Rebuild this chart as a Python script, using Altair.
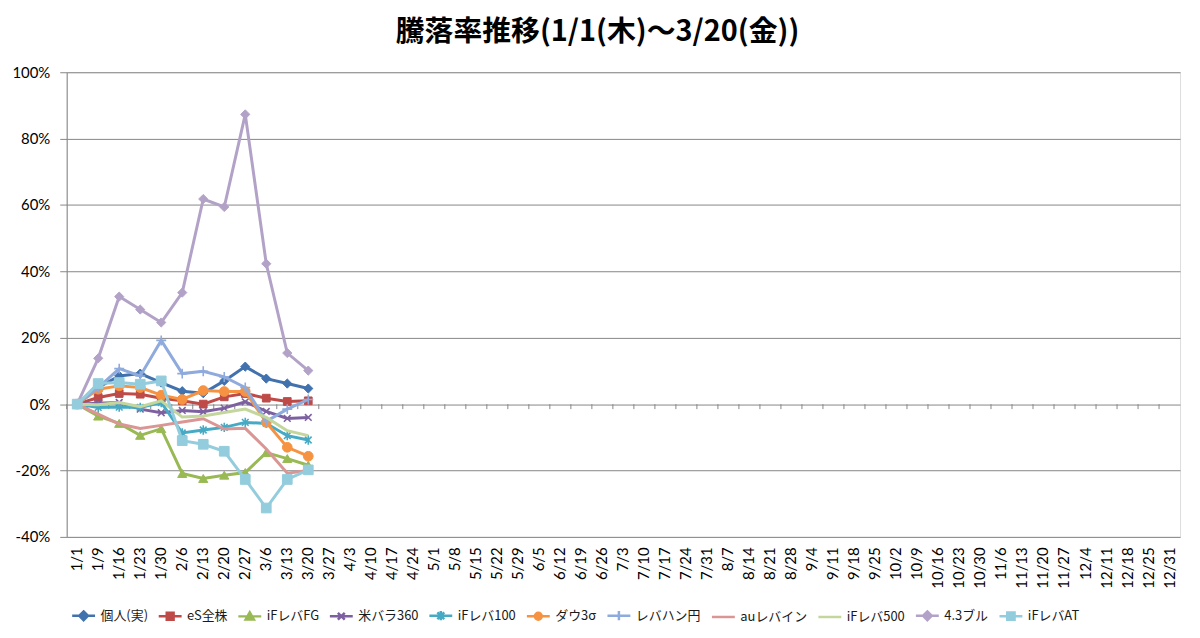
import altair as alt
import pandas as pd

# ---- data ----
categories = ["1/1", "1/9", "1/16", "1/23", "1/30", "2/6", "2/13", "2/20", "2/27", "3/6",
              "3/13", "3/20", "3/27", "4/3", "4/10", "4/17", "4/24", "5/1", "5/8", "5/15",
              "5/22", "5/29", "6/5", "6/12", "6/19", "6/26", "7/3", "7/10", "7/17", "7/24",
              "7/31", "8/7", "8/14", "8/21", "8/28", "9/4", "9/11", "9/18", "9/25", "10/2",
              "10/9", "10/16", "10/23", "10/30", "11/6", "11/13", "11/20", "11/27", "12/4",
              "12/11", "12/18", "12/25", "12/31"]
observed = categories[:12]

series_names = ["個人(実)", "eS全株", "iFレバFG", "米バラ360", "iFレバ100", "ダウ3σ",
                "レバハン円", "auレバイン", "iFレバ500", "4.3ブル", "iFレバAT"]

kojin   = [0, 5.0, 8.5, 9.2, 6.5, 3.9, 3.3, 7.0, 11.3, 7.7, 6.2, 4.7]
es_all  = [0, 2.0, 3.2, 3.0, 1.8, 1.0, 0.0, 2.2, 3.2, 1.8, 0.8, 1.0]
ifl_fg  = [0, -3.6, -5.8, -9.4, -7.4, -20.9, -22.4, -21.4, -20.6, -14.6, -16.4, -18.4]
bei360  = [0, 0.3, 0.5, -1.5, -2.6, -1.9, -2.3, -1.2, 0.7, -2.2, -4.3, -4.0]
ifl100  = [0, -1.0, -0.9, -1.0, 0.5, -8.7, -7.8, -7.0, -5.5, -5.8, -9.5, -10.8]
dow3s   = [0, 4.5, 5.5, 5.0, 2.7, 1.4, 4.1, 3.8, 3.8, -5.5, -13.0, -15.7]
rebahan = [0, 5.0, 10.7, 8.5, 19.2, 9.2, 9.9, 8.2, 5.0, -5.2, -1.5, 1.4]
aurebain = [0, -3.0, -6.0, -7.3, -6.4, -5.4, -4.4, -7.5, -7.3, -13.5, -20.8, -20.0]
ifl500  = [0, -0.2, 0.5, -0.8, 1.0, -3.9, -3.6, -2.5, -1.5, -4.0, -8.0, -9.5]
bull43  = [0, 13.8, 32.4, 28.5, 24.6, 33.6, 61.8, 59.4, 87.3, 42.3, 15.4, 10.1]
ifl_at  = [0, 6.2, 6.5, 6.0, 7.0, -11.0, -12.1, -14.2, -22.7, -31.3, -22.7, -19.8]

series_values = [kojin, es_all, ifl_fg, bei360, ifl100, dow3s, rebahan, aurebain, ifl500, bull43, ifl_at]

y_ticks = [-40, -20, 0, 20, 40, 60, 80, 100]

# ---- styles ----
colors = ["#4172AE", "#BE4B48", "#98B954", "#7D60A0", "#46AAC5", "#F59342",
          "#8FAADC", "#D99694", "#C3D69B", "#B3A2C7", "#93CDDD"]

X_PATH = "M-1,-1L1,1M-1,1L1,-1"
AST_PATH = "M-1,-1L1,1M-1,1L1,-1M0,-1.4V1.4"
PLUS_PATH = "M-1,0H1M0,-1V1"
# (shape, filled, size)
markers = [("diamond", True, 85), ("square", True, 60), ("triangle-up", True, 85),
           (X_PATH, False, 45), (AST_PATH, False, 45), ("circle", True, 95),
           (PLUS_PATH, False, 100), None, None, ("diamond", True, 85), ("square", True, 95)]

L = "M-1,0H1"
legend_paths = [
    L + "M0,-0.38L0.38,0L0,0.38L-0.38,0Z",
    L + "M-0.3,-0.3H0.3V0.3H-0.3Z",
    L + "M0,-0.36L0.36,0.28H-0.36Z",
    L + "M-0.3,-0.3L0.3,0.3M-0.3,0.3L0.3,-0.3",
    L + "M-0.3,-0.3L0.3,0.3M-0.3,0.3L0.3,-0.3M0,-0.4V0.4",
    L + "M0.3,0A0.3,0.3,0,1,1,-0.3,0A0.3,0.3,0,1,1,0.3,0Z",
    L + "M0,-0.4V0.4",
    L,
    L,
    L + "M0,-0.38L0.38,0L0,0.38L-0.38,0Z",
    L + "M-0.32,-0.32H0.32V0.32H-0.32Z",
]

GRID = "#868686"

x_enc = alt.X("date:O", sort=categories,
              scale=alt.Scale(type="band", domain=categories, paddingInner=0, paddingOuter=0),
              axis=alt.Axis(labelAngle=270, domain=False, ticks=False, grid=False,
                            labelPadding=10, labelFont="Lato", labelFontSize=15,
                            labelColor="#000000", labelOverlap=False, title=None))
y_enc = alt.Y("value:Q", scale=alt.Scale(domain=[-40, 100], nice=False, zero=False),
              axis=alt.Axis(values=y_ticks, labelExpr="datum.value + '%'", grid=True,
                            gridColor=GRID, domainColor=GRID, tickColor=GRID, tickSize=7,
                            labelPadding=10, labelFont="Lato", labelFontSize=15,
                            labelColor="#000000", title=None))

layers = []

# small tick marks on the 0% category axis
tick_df = pd.DataFrame({"date": categories})
layers.append(
    alt.Chart(tick_df).mark_rule(color=GRID, strokeWidth=1).encode(
        x=alt.X("date:O", sort=categories, bandPosition=0,
                scale=alt.Scale(type="band", domain=categories, paddingInner=0, paddingOuter=0)),
        y=alt.datum(0), y2=alt.datum(-1.5))
)

for name, vals, col, mk in zip(series_names, series_values, colors, markers):
    df = pd.DataFrame({"date": observed, "value": vals, "series": name})
    base = alt.Chart(df)
    layers.append(base.mark_line(color=col, strokeWidth=3).encode(x=x_enc, y=y_enc))
    if mk is not None:
        shape, filled, size = mk
        if filled:
            pm = base.mark_point(shape=shape, filled=True, fill=col, stroke=col,
                                 strokeWidth=1, size=size, opacity=1)
        else:
            pm = base.mark_point(shape=shape, filled=False, stroke=col,
                                 strokeWidth=1.6, size=size, opacity=1)
        layers.append(pm.encode(x=x_enc, y=y_enc))

# legend-only layer (points clipped away)
leg = alt.Legend(title=None, orient="none", legendX=4, legendY=533, direction="horizontal",
                 columns=11, columnPadding=5, labelOffset=4, symbolSize=529,
                 symbolStrokeWidth=2.5, labelFont="Noto Sans CJK JP", labelFontSize=13,
                 labelColor="#1a1a1a", padding=0)
leg_df = pd.DataFrame({"series": series_names})
layers.append(
    alt.Chart(leg_df).mark_point(filled=True, clip=True, opacity=1, strokeWidth=2.5, size=529).encode(
        x=alt.value(-200), y=alt.value(-200),
        fill=alt.Fill("series:N", sort=series_names,
                      scale=alt.Scale(domain=series_names, range=colors), legend=leg),
        stroke=alt.Stroke("series:N", sort=series_names,
                          scale=alt.Scale(domain=series_names, range=colors), legend=leg),
        shape=alt.Shape("series:N", sort=series_names,
                        scale=alt.Scale(domain=series_names, range=legend_paths), legend=leg),
    )
)

chart = alt.layer(*layers).properties(
    width=1119, height=467,
    title=alt.TitleParams("騰落率推移(1/1(木)～3/20(金))", font="Noto Sans CJK JP",
                          fontSize=29, fontWeight="bold", color="#000000",
                          anchor="middle", dx=-26, offset=18),
    autosize=alt.AutoSizeParams(type="none"),
    padding={"left": 59, "top": 63, "right": 12, "bottom": 90},
).configure_view(stroke=None).configure(background="white")

chart.save("out.html", embed_options={"renderer": "svg", "actions": False})
